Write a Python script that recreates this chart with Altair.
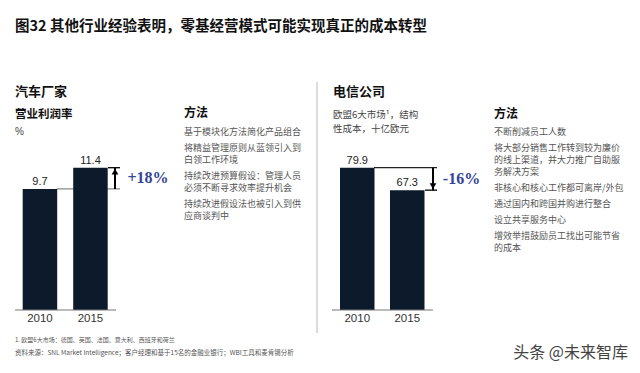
import altair as alt
import pandas as pd

# ---------------- data ----------------
years = ["2010", "2015"]
auto_margin = [9.7, 11.4]
telco_cost = [79.9, 67.3]
auto_change = "+18%"
telco_change = "-16%"

title_text = "图32 其他行业经验表明，零基经营模式可能实现真正的成本转型"
auto_heading = "汽车厂家"
auto_metric = ["营业利润率", "%"]
telco_heading = "电信公司"
telco_metric = ["欧盟6大市场¹，结构", "性成本，十亿欧元"]
method_heading = "方法"
auto_methods = [
    ["基于模块化方法简化产品组合"],
    ["将精益管理原则从蓝领引入到", "白领工作环境"],
    ["持续改进预算假设：管理人员", "必须不断寻求效率提升机会"],
    ["持续改进假设法也被引入到供", "应商谈判中"],
]
telco_methods = [
    ["不断削减员工人数"],
    ["将大部分销售工作转到较为廉价", "的线上渠道，并大力推广自助服", "务解决方案"],
    ["非核心和核心工作都可离岸/外包"],
    ["通过国内和跨国并购进行整合"],
    ["设立共享服务中心"],
    ["增效举措鼓励员工找出可能节省", "的成本"],
]
footnotes = [
    "1. 欧盟6大市场：德国、英国、法国、意大利、西班牙和荷兰",
    "资料来源：SNL Market Intelligence；客户经理和基于15名的金融业银行；WBI工具和麦肯锡分析",
]
watermark = "头条 @未来智库"

# ---------------- style ----------------
BAR = "#0c1a2b"
PCT = "#34449a"
CJK = "Noto Sans CJK SC"
ONE = alt.Data(values=[{}])


def label(text, x, y, size=10, bold=False, color="#444", align="left", font=CJK):
    return alt.Chart(ONE).mark_text(
        text=text, align=align, baseline="middle", fontSize=size,
        fontWeight="bold" if bold else "normal", color=color, font=font,
    ).encode(x=alt.value(x), y=alt.value(y))


def panel(values, change, xr, pi, conn, conn_color, tick, arrow_x, base_x, pct_x, up):
    df = pd.DataFrame({"year": years, "value": values})
    ch = pd.DataFrame({"v_from": [values[0]], "v_to": [values[1]], "label": [change]})
    xs = alt.Scale(domain=years, range=xr, paddingInner=pi, paddingOuter=0)
    ys = alt.Scale(domain=[0, max(values)], range=[302, 159.7], nice=False, zero=True)
    X = alt.X("year:N", scale=xs, axis=None, bandPosition=0.5)
    XB = alt.X("year:N", scale=xs, axis=None)
    Y = alt.Y("value:Q", scale=ys, axis=None)
    base = alt.Chart(df)
    cb = alt.Chart(ch)

    connector = cb.mark_rule(color=conn_color, strokeWidth=1.3).encode(
        x=alt.value(conn[0]), x2=alt.value(conn[1]),
        y=alt.Y("v_from:Q", scale=ys, axis=None))
    bars = base.mark_bar(color=BAR).encode(x=XB, y=Y)
    tickr = cb.mark_rule(color="#000", strokeWidth=1.3).encode(
        x=alt.value(tick[0]), x2=alt.value(tick[1]),
        y=alt.Y("v_to:Q", scale=ys, axis=None))
    shaft = cb.mark_rule(color="#000", strokeWidth=2).encode(
        x=alt.value(arrow_x),
        y=alt.Y("v_from:Q", scale=ys, axis=None), y2="v_to:Q")
    head = cb.mark_point(shape="triangle-up" if up else "triangle-down", filled=True,
                         size=45, color="#000", opacity=1,
                         yOffset=4 if up else -4).encode(
        x=alt.value(arrow_x), y=alt.Y("v_to:Q", scale=ys, axis=None))
    baseline = cb.transform_calculate(zero="0").mark_rule(color="#777", strokeWidth=1).encode(
        x=alt.value(base_x[0]), x2=alt.value(base_x[1]),
        y=alt.Y("zero:Q", scale=ys, axis=None))
    vals = base.mark_text(baseline="bottom", dy=-2, fontSize=11, color="#222",
                          font="Liberation Sans").encode(
        x=X, y=Y, text=alt.Text("value:Q", format=".1f"))
    yrs = base.mark_text(baseline="middle", fontSize=11.5, color="#333",
                         font="Liberation Sans").encode(
        x=X, y=alt.value(311), text="year:N")
    pct = cb.transform_calculate(mid="(datum.v_from + datum.v_to) / 2").mark_text(
        baseline="middle", align="center", fontSize=16, fontWeight="bold",
        font="Liberation Serif", color=PCT).encode(
        x=alt.value(pct_x), y=alt.Y("mid:Q", scale=ys, axis=None), text="label:N")
    return alt.layer(connector, bars, tickr, shaft, head, baseline, vals, yrs, pct)


left = panel(auto_margin, auto_change, [14.7, 99.7], 0.317,
             conn=(48.7, 112), conn_color="#888", tick=(100, 112),
             arrow_x=107, base_x=(7, 108), pct_x=140, up=True)
right = panel(telco_cost, telco_change, [332, 416.5], 0.31,
              conn=(366, 429), conn_color="#222", tick=(417, 429),
              arrow_x=425, base_x=(324, 425), pct_x=453.5, up=False)


def methods(items, x, y0, within=12, between=16):
    out = []
    y = y0
    for item in items:
        for j, line in enumerate(item):
            out.append(label(line, x, y, size=9, color="#555"))
            if j < len(item) - 1:
                y += within
        y += between
    return out


texts = [
    label(title_text, 7, 19, size=14.5, bold=True, color="#111"),
    label(auto_heading, 7, 84, size=13, bold=True, color="#111"),
    label(auto_metric[0], 7, 107, size=11.5, bold=True, color="#111"),
    label(auto_metric[1], 7, 124, size=10, color="#444", font="Liberation Sans"),
    label(method_heading, 176, 105, size=12, bold=True, color="#111"),
    label(telco_heading, 325, 84, size=13, bold=True, color="#111"),
    label(telco_metric[0], 325, 106.5, size=9.5, color="#444"),
    label(telco_metric[1], 325, 120.5, size=9.5, color="#444"),
    label(method_heading, 486, 106, size=12, bold=True, color="#111"),
    label(footnotes[0], 7, 332, size=6, color="#555"),
    label(footnotes[1], 7, 345, size=6.5, color="#555"),
    label(watermark, 620, 345, size=16, color="#444", align="right"),
]
texts += methods(auto_methods, 176, 124)
texts += methods(telco_methods, 486, 124)

divider = alt.Chart(ONE).mark_rule(color="#dcdcdc", strokeWidth=2).encode(
    x=alt.value(309), y=alt.value(74), y2=alt.value(325))

chart = alt.layer(left, right, divider, *texts).resolve_scale(
    x="independent", y="independent"
).properties(
    width=624, height=357, padding=0, autosize="none", background="white"
).configure_view(stroke=None)

chart.save("out.html", embed_options={"renderer": "svg", "actions": False})
